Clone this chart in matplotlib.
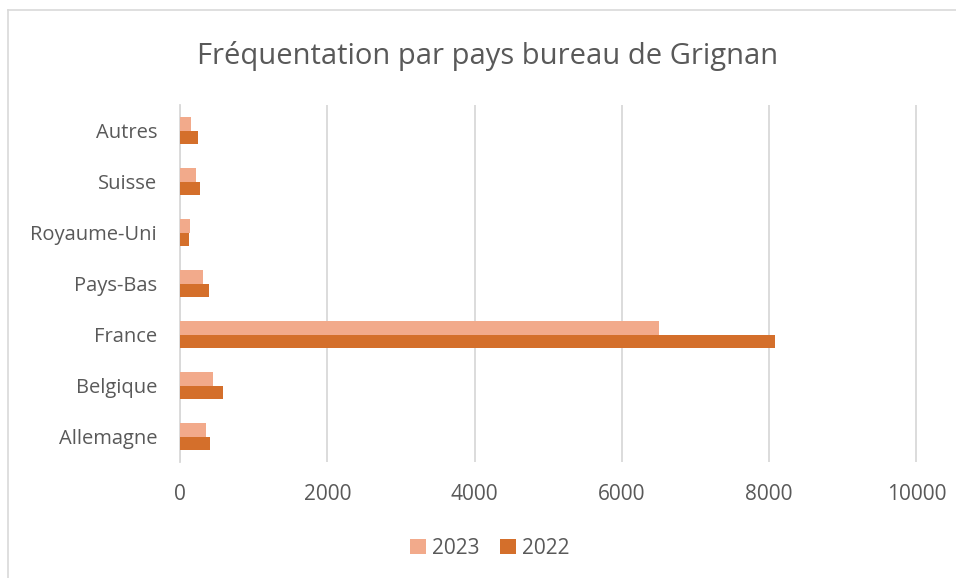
import matplotlib
matplotlib.use("Agg")
import matplotlib.pyplot as plt
import numpy as np
from matplotlib.lines import Line2D

categories = ["Allemagne", "Belgique", "France", "Pays-Bas", "Royaume-Uni", "Suisse", "Autres"]
v2023 = [350, 450, 6500, 310, 135, 215, 150]
v2022 = [410, 580, 8080, 395, 120, 270, 250]
xticks = [0, 2000, 4000, 6000, 8000, 10000]

plt.rcParams['font.family'] = ['Open Sans', 'DejaVu Sans']
fig = plt.figure(figsize=(9.56, 5.78), dpi=100)
W, H = 956, 578
ax = fig.add_axes([180 / W, 1 - 462 / H, (920 - 180) / W, (462 - 105) / H])

y = np.arange(len(categories))
h = 0.255
c23 = "#F2AA8B"
c22 = "#D46F2B"
ax.barh(y + h / 2, v2023, height=h, color=c23, label="2023", zorder=3)
ax.barh(y - h / 2, v2022, height=h, color=c22, label="2022", zorder=3)

ax.set_xlim(0, 10050)
ax.set_ylim(-0.5, len(categories) - 0.5)
ax.set_xticks(xticks)
ax.set_xticklabels([str(t) for t in xticks])
ax.set_yticks(y)
ax.set_yticklabels(categories)
ax.grid(axis='x', color="#D9D9D9", linewidth=1.3, zorder=0)
for s in ["top", "right", "bottom"]:
    ax.spines[s].set_visible(False)
ax.spines["left"].set_color("#D9D9D9")
ax.spines["left"].set_linewidth(1.3)
ax.tick_params(axis='both', length=0, colors="#595959")
ax.tick_params(axis='x', pad=16, labelsize=15)
ax.tick_params(axis='y', pad=16.5, labelsize=14.5)

fig.text(488 / W, 1 - 56 / H, "Fréquentation par pays bureau de Grignan",
         ha="center", va="center", fontsize=21, color="#595959")

handles, labels = ax.get_legend_handles_labels()
fig.legend(handles, labels, loc="center", bbox_to_anchor=(490 / W, 1 - 548 / H),
           ncol=2, frameon=False, fontsize=15, labelcolor="#595959",
           handlelength=0.75, handleheight=0.75, handletextpad=0.3, columnspacing=1.0)

fig.add_artist(Line2D([7.5 / W, 7.5 / W], [0, 1 - 10 / H], transform=fig.transFigure,
                      color="#D9D9D9", linewidth=1.2))
fig.add_artist(Line2D([7.5 / W, 1], [1 - 10 / H, 1 - 10 / H], transform=fig.transFigure,
                      color="#D9D9D9", linewidth=1.2))

fig.savefig("out.png", dpi=100)
